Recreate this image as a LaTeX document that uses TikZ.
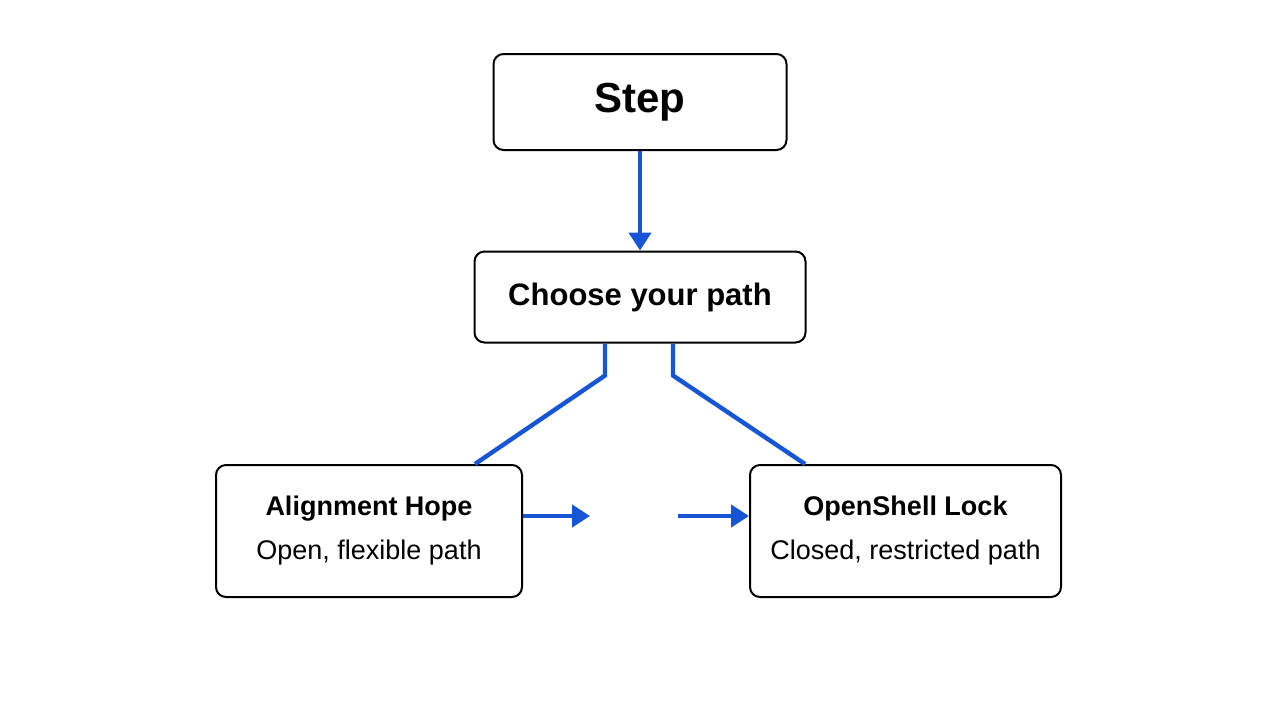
\documentclass[tikz,border=0pt]{standalone}
\usepackage{fontspec}
\setmainfont{Liberation Sans}
\usetikzlibrary{positioning,arrows.meta}
\definecolor{pathblue}{RGB}{22,86,214}
\begin{document}
\begin{tikzpicture}
    [ x = .5pt, y = -.5pt
    , box/.style =
      { draw, rounded corners = 5pt, line width = 1pt, align = center, fill = white }
    , link/.style =
      { pathblue, line width = 2.2pt }
    , arrow/.style =
      { link, -{Triangle[length=9pt,width=11pt]} }
    ]
    \useasboundingbox [fill=white] (0,0) rectangle (1280,720);
    \node [box, minimum width=146.5pt, minimum height=48pt, font=\fontsize{21}{24}\selectfont\bfseries]
      (step) at (640,102) {Step};
    \node [box, minimum width=165.5pt, minimum height=45.5pt, font=\fontsize{15.5}{18}\selectfont\bfseries]
      (choose) at (640,297) {Choose your path};
    \node [box, minimum width=153pt, minimum height=66pt, font=\fontsize{13.5}{20}\selectfont]
      (hope) at (369,531) {\textbf{Alignment Hope}\\[2pt]Open, flexible path};
    \node [box, minimum width=155.5pt, minimum height=66pt, font=\fontsize{13.5}{20}\selectfont]
      (lock) at (905.5,531) {\textbf{OpenShell Lock}\\[2pt]Closed, restricted path};

    \coordinate (hopeend) at (590,516);
    \coordinate (lockstart) at (678,516);

    \draw [arrow] (step) -- (choose);
    \draw [link] (choose.south -| 605,0) -- ++(0,32) -- (hope.north -| 475,0);
    \draw [link] (choose.south -| 673,0) -- ++(0,32) -- (lock.north -| 805,0);
    \draw [arrow] (hope.east |- hopeend) -- (hopeend);
    \draw [arrow] (lockstart) -- (lock.west |- lockstart);
  \end{tikzpicture}
\end{document}
